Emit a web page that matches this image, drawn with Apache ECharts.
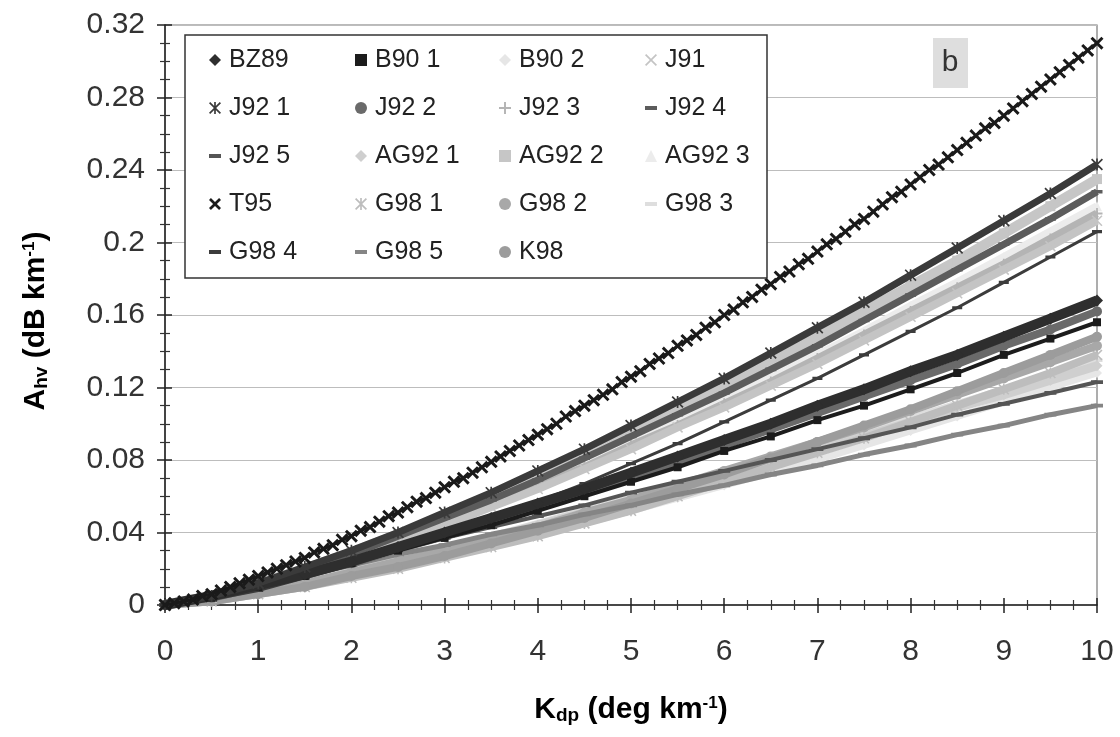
<!DOCTYPE html>
<html><head><meta charset="utf-8">
<script src="https://cdn.jsdelivr.net/npm/echarts@6/dist/echarts.min.js"></script>
<style>html,body{margin:0;padding:0;background:#fff}#c{width:1120px;height:737px}</style>
</head><body><div id="c"></div>
<script>
// K_dp sample points (deg/km)
const kdp = [0,0.5,1,1.5,2,2.5,3,3.5,4,4.5,5,5.5,6,6.5,7,7.5,8,8.5,9,9.5,10];
const kdpFine = [0,0.1,0.2,0.3,0.4,0.5,0.6,0.7,0.8,0.9,1,1.1,1.2,1.3,1.4,1.5,1.6,1.7,1.8,1.9,2,2.1,2.2,2.3,2.4,2.5,2.6,2.7,2.8,2.9,3,3.1,3.2,3.3,3.4,3.5,3.6,3.7,3.8,3.9,4,4.1,4.2,4.3,4.4,4.5,4.6,4.7,4.8,4.9,5,5.1,5.2,5.3,5.4,5.5,5.6,5.7,5.8,5.9,6,6.1,6.2,6.3,6.4,6.5,6.6,6.7,6.8,6.9,7,7.1,7.2,7.3,7.4,7.5,7.6,7.7,7.8,7.9,8,8.1,8.2,8.3,8.4,8.5,8.6,8.7,8.8,8.9,9,9.1,9.2,9.3,9.4,9.5,9.6,9.7,9.8,9.9,10];

// A_hv (dB/km)
const bz89  = [0,0.005,0.011,0.017,0.024,0.032,0.040,0.048,0.056,0.064,0.073,0.082,0.091,0.100,0.110,0.119,0.129,0.138,0.148,0.158,0.168];
const b90_1 = [0,0.004,0.010,0.016,0.023,0.030,0.037,0.044,0.052,0.060,0.068,0.076,0.085,0.093,0.102,0.110,0.119,0.128,0.138,0.147,0.156];
const b90_2 = [0,0.003,0.006,0.011,0.016,0.021,0.027,0.033,0.039,0.045,0.052,0.059,0.066,0.073,0.080,0.088,0.096,0.104,0.112,0.120,0.128];
const j91   = [0,0.004,0.011,0.018,0.026,0.035,0.044,0.054,0.064,0.075,0.086,0.098,0.109,0.121,0.133,0.146,0.159,0.172,0.185,0.198,0.212];
const j92_1 = [0,0.005,0.012,0.021,0.030,0.040,0.051,0.062,0.074,0.086,0.099,0.112,0.125,0.139,0.153,0.167,0.182,0.197,0.212,0.227,0.243];
const j92_2 = [0,0.004,0.010,0.017,0.023,0.031,0.038,0.046,0.054,0.062,0.071,0.079,0.088,0.097,0.106,0.115,0.124,0.133,0.143,0.152,0.162];
const j92_3 = [0,0.004,0.011,0.018,0.027,0.036,0.045,0.055,0.066,0.076,0.088,0.099,0.111,0.123,0.136,0.149,0.162,0.175,0.188,0.202,0.216];
const j92_4 = [0,0.005,0.011,0.019,0.028,0.038,0.048,0.058,0.069,0.081,0.093,0.105,0.117,0.130,0.143,0.157,0.171,0.185,0.199,0.213,0.228];
const j92_5 = [0,0.006,0.012,0.018,0.025,0.031,0.037,0.043,0.049,0.055,0.062,0.068,0.074,0.080,0.086,0.092,0.098,0.105,0.111,0.117,0.123];
const ag92_1= [0,0.004,0.008,0.014,0.019,0.025,0.031,0.037,0.044,0.051,0.057,0.064,0.072,0.079,0.086,0.093,0.101,0.109,0.116,0.124,0.132];
const ag92_2= [0,0.005,0.012,0.020,0.029,0.039,0.049,0.060,0.071,0.083,0.096,0.108,0.121,0.134,0.148,0.162,0.176,0.190,0.205,0.220,0.235];
const ag92_3= [0,0.004,0.011,0.019,0.027,0.036,0.046,0.056,0.067,0.078,0.089,0.101,0.113,0.126,0.138,0.151,0.165,0.178,0.192,0.206,0.220];
const t95   = [0,0.001,0.002,0.003,0.005,0.006,0.008,0.010,0.012,0.014,0.016,0.018,0.020,0.022,0.024,0.026,0.029,0.031,0.033,0.036,0.038,0.041,0.043,0.046,0.049,0.051,0.054,0.057,0.059,0.062,0.065,0.068,0.070,0.073,0.076,0.079,0.082,0.085,0.088,0.091,0.094,0.097,0.100,0.104,0.107,0.110,0.113,0.116,0.119,0.123,0.126,0.129,0.133,0.136,0.139,0.143,0.146,0.149,0.153,0.156,0.160,0.163,0.167,0.170,0.174,0.177,0.181,0.184,0.188,0.191,0.195,0.199,0.202,0.206,0.210,0.213,0.217,0.221,0.225,0.228,0.232,0.236,0.240,0.243,0.247,0.251,0.255,0.259,0.263,0.266,0.270,0.274,0.278,0.282,0.286,0.290,0.294,0.298,0.302,0.306,0.310];
const g98_1 = [0,0.002,0.006,0.010,0.015,0.020,0.026,0.032,0.038,0.045,0.052,0.060,0.068,0.076,0.084,0.092,0.101,0.110,0.119,0.128,0.138];
const g98_2 = [0,0.003,0.007,0.012,0.018,0.024,0.030,0.037,0.043,0.051,0.058,0.066,0.074,0.082,0.090,0.098,0.107,0.116,0.125,0.134,0.143];
const g98_3 = [0,0.004,0.009,0.014,0.020,0.026,0.032,0.038,0.045,0.052,0.059,0.066,0.073,0.080,0.088,0.096,0.103,0.111,0.119,0.127,0.135];
const g98_4 = [0,0.003,0.008,0.015,0.022,0.030,0.038,0.047,0.057,0.067,0.078,0.089,0.101,0.113,0.125,0.138,0.151,0.164,0.178,0.192,0.206];
const g98_5 = [0,0.006,0.011,0.017,0.022,0.028,0.033,0.039,0.044,0.050,0.055,0.061,0.066,0.072,0.077,0.083,0.088,0.094,0.099,0.105,0.110];
const k98   = [0,0.002,0.006,0.010,0.016,0.021,0.027,0.034,0.041,0.048,0.056,0.064,0.072,0.081,0.090,0.099,0.108,0.118,0.128,0.138,0.148];

// legend columns (as laid out in the figure)
const legendCols = [
  ['BZ89','J92 1','J92 5','T95','G98 4'],
  ['B90 1','J92 2','AG92 1','G98 1','G98 5'],
  ['B90 2','J92 3','AG92 2','G98 2','K98'],
  ['J91','J92 4','AG92 3','G98 3']
];

const X = 'path://M0,1.6L1.6,0L5,3.4L8.4,0L10,1.6L6.6,5L10,8.4L8.4,10L5,6.6L1.6,10L0,8.4L3.4,5Z';
const XL = 'path://M1,0L5,4L9,0L10,1L6,5L10,9L9,10L5,6L1,10L0,9L4,5L0,1Z';
const PLUS = 'path://M4.2,0L5.8,0L5.8,4.2L10,4.2L10,5.8L5.8,5.8L5.8,10L4.2,10L4.2,5.8L0,5.8L0,4.2L4.2,4.2Z';
const AST = 'path://M1,0L5,4L9,0L10,1L6,5L10,9L9,10L5,6L1,10L0,9L4,5L0,1Z M4.3,0L5.7,0L5.7,10L4.3,10Z';
const DASH = 'path://M0,0L0.01,0L0.01,0.01Z M0,3.4L10,3.4L10,6.6L0,6.6Z M0,10L0.01,10L0.01,9.99Z';

// drawing order: light first, darker on top
const defs = [
  {name:'B90 2', x:kdp, d:b90_2, sym:'diamond', c:'#e6e6e6', w:7, s:10},
  {name:'AG92 3',x:kdp, d:ag92_3,sym:'triangle',c:'#ececec', w:8, s:10},
  {name:'G98 3', x:kdp, d:g98_3, sym:DASH, c:'#dedede', w:7, s:11},
  {name:'AG92 1',x:kdp, d:ag92_1,sym:'diamond', c:'#cfcfcf', w:9, s:11},
  {name:'G98 1', x:kdp, d:g98_1, sym:AST, c:'#bdbdbd', w:8, s:11},
  {name:'AG92 2',x:kdp, d:ag92_2,sym:'rect', c:'#c6c6c6', w:10, s:10},
  {name:'G98 2', x:kdp, d:g98_2, sym:'circle', c:'#a8a8a8', w:8, s:10},
  {name:'K98',   x:kdp, d:k98,   sym:'circle', c:'#9c9c9c', w:8, s:10},
  {name:'J92 3', x:kdp, d:j92_3, sym:PLUS, c:'#b4b4b4', w:8, s:11},
  {name:'J91',   x:kdp, d:j91,   sym:XL, c:'#c4c4c4', w:8, s:11},
  {name:'G98 5', x:kdp, d:g98_5, sym:DASH, c:'#858585', w:5, s:12},
  {name:'J92 5', x:kdp, d:j92_5, sym:DASH, c:'#555555', w:4, s:12},
  {name:'J92 2', x:kdp, d:j92_2, sym:'circle', c:'#6a6a6a', w:8, s:10},
  {name:'J92 4', x:kdp, d:j92_4, sym:DASH, c:'#5c5c5c', w:7, s:11},
  {name:'G98 4', x:kdp, d:g98_4, sym:DASH, c:'#3c3c3c', w:3, s:10},
  {name:'B90 1', x:kdp, d:b90_1, sym:'rect', c:'#1c1c1c', w:4, s:8},
  {name:'BZ89',  x:kdp, d:bz89,  sym:'diamond', c:'#2e2e2e', w:10, s:12},
  {name:'J92 1', x:kdp, d:j92_1, sym:AST, c:'#3a3a3a', w:7, s:12},
  {name:'T95',   x:kdpFine, d:t95, sym:X, c:'#1a1a1a', w:3, s:13}
];
const iconOf = {};
defs.forEach(o => iconOf[o.name] = o.sym);

const series = defs.map((o,i) => ({
  name:o.name, type:'line', data:o.x.map((k,j)=>[k,o.d[j]]),
  symbol:o.sym, symbolSize:o.s, showSymbol:true, showAllSymbol:true,
  lineStyle:{color:o.c, width:o.w}, itemStyle:{color:o.c},
  z: 2 + i*0.01, animation:false, silent:true
}));

const FONT = '"Liberation Sans", Arial, Helvetica, sans-serif';
const colLeft = [209, 355, 499, 645];
const legends = legendCols.map((col,ci)=>({
  orient:'vertical', left:colLeft[ci], top:47, padding:0,
  itemGap:22, itemWidth:12, itemHeight:12, z:12, selectedMode:false,
  data: col.map(n=>({name:n, icon:iconOf[n]})),
  textStyle:{fontSize:25, color:'#222', fontFamily:FONT, lineHeight:26, padding:[0,0,0,3]}
}));

const inTick = {show:true, inside:true, length:7, lineStyle:{color:'#222', width:1.5}};
const inMinor = {show:true, splitNumber:4, length:5, lineStyle:{color:'#333', width:1.2}};

const chart = echarts.init(document.getElementById('c'), null, {renderer:'canvas'});
chart.setOption({
  backgroundColor:'#fff',
  animation:false,
  grid:{left:165, right:23, top:25, bottom:132, show:true, borderColor:'#777', borderWidth:1.2, backgroundColor:'transparent'},
  xAxis:[{type:'value', min:0, max:10, interval:1,
    axisLine:{lineStyle:{color:'#222', width:1.5}},
    axisTick:{length:8, lineStyle:{color:'#222', width:1.5}},
    minorTick:{show:true, splitNumber:4, length:5, lineStyle:{color:'#333', width:1.2}},
    splitLine:{show:false},
    axisLabel:{margin:32, fontSize:30, color:'#333', fontFamily:FONT}},
    {type:'value', show:true, gridIndex:0, min:0, max:10, interval:1, position:'bottom', offset:0,
    axisLine:{show:true, onZero:false, lineStyle:{color:'rgba(0,0,0,0)'}},
    axisLabel:{show:false}, splitLine:{show:false}, axisTick:inTick, minorTick:inMinor}],
  yAxis:[{type:'value', min:0, max:0.32, interval:0.04,
    axisLine:{show:true, lineStyle:{color:'#222', width:1.5}},
    axisTick:{show:true, length:8, lineStyle:{color:'#222', width:1.5}},
    minorTick:{show:true, splitNumber:4, length:5, lineStyle:{color:'#333', width:1.2}},
    splitLine:{show:true, lineStyle:{color:'#bdbdbd', width:1.2}},
    axisLabel:{margin:20, fontSize:30, color:'#333', fontFamily:FONT}},
    {type:'value', show:true, gridIndex:0, min:0, max:0.32, interval:0.04, position:'left', offset:0,
    axisLine:{show:true, onZero:false, lineStyle:{color:'rgba(0,0,0,0)'}},
    axisLabel:{show:false}, splitLine:{show:false}, axisTick:inTick, minorTick:inMinor}],
  legend: legends,
  graphic:[
    {type:'rect', z:10, shape:{x:185, y:35, width:582, height:243}, style:{fill:'#fff', stroke:'#333', lineWidth:1.5}},
    {type:'rect', z:10, shape:{x:933, y:38, width:35, height:50}, style:{fill:'#dedede'}},
    {type:'text', z:11, x:950, y:63, style:{text:'b', fill:'#333', font:'30px '+FONT, align:'center', verticalAlign:'middle'}},
    {type:'text', z:11, x:631, y:710, style:{
      text:'{m|K}{s|dp}{m| (deg km}{p|-1}{m|)}', align:'center', verticalAlign:'middle',
      rich:{m:{fontSize:30, fontWeight:'bold', fontFamily:FONT, color:'#333'},
            s:{fontSize:19, fontWeight:'bold', fontFamily:FONT, color:'#333', padding:[12,0,0,0]},
            p:{fontSize:17, fontWeight:'bold', fontFamily:FONT, color:'#333', padding:[0,0,14,0]}}}},
    {type:'text', z:11, x:36, y:321, rotation:Math.PI/2, style:{
      text:'{m|A}{s|hv}{m| (dB km}{p|-1}{m|)}', align:'center', verticalAlign:'middle',
      rich:{m:{fontSize:30, fontWeight:'bold', fontFamily:FONT, color:'#333'},
            s:{fontSize:19, fontWeight:'bold', fontFamily:FONT, color:'#333', padding:[12,0,0,0]},
            p:{fontSize:17, fontWeight:'bold', fontFamily:FONT, color:'#333', padding:[0,0,14,0]}}}}
  ],
  series: series
});
</script></body></html>
